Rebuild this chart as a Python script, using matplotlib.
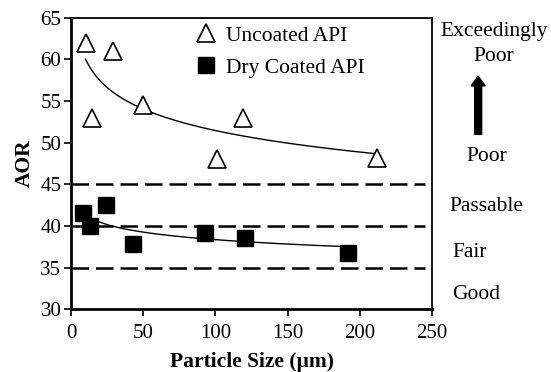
import numpy as np
import matplotlib
matplotlib.use("Agg")
import matplotlib.pyplot as plt

# particle size (um) vs angle of repose
uncoated_x = [10, 14.5, 29, 50, 101, 119, 212]
uncoated_y = [62, 53, 61, 54.5, 48, 53, 48.2]
coated_x = [8.3, 13, 24, 43, 93, 120.5, 192]
coated_y = [41.5, 40, 42.5, 37.8, 39.1, 38.6, 36.8]
limits = [45, 40, 35]

plt.rcParams['font.family'] = ['Liberation Serif', 'DejaVu Serif']

fig = plt.figure(figsize=(5.51, 3.72), dpi=100)
ax = fig.add_axes([0.129, 0.169, 0.655, 0.783])

# logarithmic trend lines fitted to each series
def log_fit(x, y):
    b, a = np.polyfit(np.log(x), y, 1)
    xs = np.linspace(min(x), max(x), 200)
    return xs, a + b * np.log(xs)

for xx, yy in [(uncoated_x, uncoated_y), (coated_x, coated_y)]:
    fx, fy = log_fit(np.array(xx), np.array(yy))
    ax.plot(fx, fy, color='black', lw=1.0, zorder=2)

for lim in limits:
    ax.plot([0, 245], [lim, lim], color='black', lw=1.8, dashes=(7, 2.8), zorder=1)

ax.plot(uncoated_x, uncoated_y, ls='none', marker='^', ms=13, mfc='white',
        mec='black', mew=1.2, label='Uncoated API', zorder=3)
ax.plot(coated_x, coated_y, ls='none', marker='s', ms=12, mfc='black',
        mec='black', label='Dry Coated API', zorder=3)

ax.set_xlim(0, 250)
ax.set_ylim(30, 65)
ax.set_xticks([0, 50, 100, 150, 200, 250])
ax.set_yticks([30, 35, 40, 45, 50, 55, 60, 65])
ax.tick_params(labelsize=15, direction='out', length=5, width=1.2, pad=2)
ax.tick_params(axis='x', pad=6)
for s in ['left', 'bottom']:
    ax.spines[s].set_linewidth(2)
for s in ['top', 'right']:
    ax.spines[s].set_linewidth(1.3)

ax.set_xlabel('Particle Size (µm)', fontsize=15.5, fontweight='bold', labelpad=6)
ax.set_ylabel('AOR', fontsize=15.5, fontweight='bold', labelpad=4)

ax.legend(loc='upper left', bbox_to_anchor=(0.297, 1.04), frameon=False,
          fontsize=15.5, handlelength=0.8, handletextpad=0.5, labelspacing=0.55)

# flowability classes on the right
kw = dict(fontsize=15.5, clip_on=False, va='center')
ax.text(293, 63.4, 'Exceedingly', ha='center', **kw)
ax.text(293, 60.4, 'Poor', ha='center', **kw)
ax.text(274, 48.3, 'Poor', ha='left', **kw)
ax.text(262, 42.3, 'Passable', ha='left', **kw)
ax.text(264, 36.8, 'Fair', ha='left', **kw)
ax.text(264, 31.8, 'Good', ha='left', **kw)
ax.annotate('', xy=(282, 58.0), xytext=(282, 51.0), annotation_clip=False,
            arrowprops=dict(facecolor='black', edgecolor='black', width=5,
                            headwidth=10, headlength=7))

fig.savefig('out.png', dpi=100)
